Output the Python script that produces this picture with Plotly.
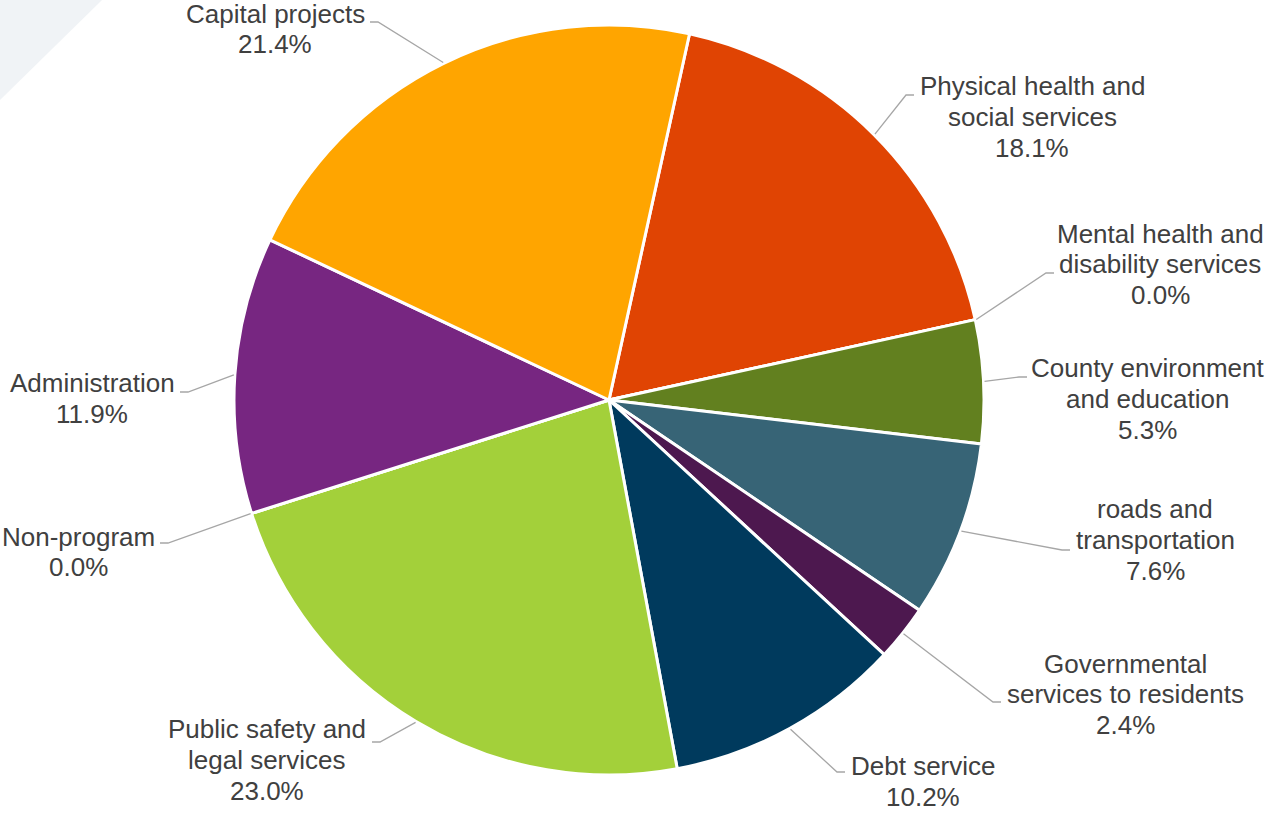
import math
import plotly.graph_objects as go

# Budget shares by programme area, listed clockwise from the top of the pie
categories = [
    "Physical health and social services",
    "Mental health and disability services",
    "County environment and education",
    "roads and transportation",
    "Governmental services to residents",
    "Debt service",
    "Public safety and legal services",
    "Non-program",
    "Administration",
    "Capital projects",
]
shares = [18.1, 0.0, 5.3, 7.6, 2.4, 10.2, 23.0, 0.0, 11.9, 21.4]

# Wrapped label text for each slice
label_text = [
    ["Physical health and", "social services"],
    ["Mental health and", "disability services"],
    ["County environment", "and education"],
    ["roads and", "transportation"],
    ["Governmental", "services to residents"],
    ["Debt service"],
    ["Public safety and", "legal services"],
    ["Non-program"],
    ["Administration"],
    ["Capital projects"],
]

slice_colors = [
    "#E04403", "#A5A5A5", "#62801F", "#376476", "#4D184F",
    "#003A5D", "#A3D03A", "#7F7F7F", "#772681", "#FFA500",
]

# ---- layout / styling ----
W, H = 1268, 814
CX, CY, R = 609, 400, 375          # pie centre and radius in pixels
START_ANGLE = 12.4                  # degrees clockwise from 12 o'clock
FONT = dict(family="Liberation Sans, Arial, sans-serif", size=26, color="#404040")
LINE_STEP = 30.75                   # line spacing of label text (px)
LEADER_COLOR = "#A6A6A6"
HOOK_LEN = 8

# label placement: text centre x, first-line centre y, leader hook end (x, y)
label_layout = [
    (1032, 86, 914, 95),
    (1160, 233.5, 1054, 273),
    (1147, 368.5, 1027, 377),
    (1155, 509, 1070, 550),
    (1125, 663.5, 1001, 702),
    (923, 766, 845, 772),
    (267, 729, 372, 742),
    (78, 536.5, 160, 543),
    (92, 383.5, 180, 392),
    (275, 13.5, 370, 22),
]


def px(x):
    return x / W


def py(y):
    return 1 - y / H


fig = go.Figure(
    go.Pie(
        labels=categories,
        values=shares,
        sort=False,
        direction="clockwise",
        rotation=START_ANGLE,
        textinfo="none",
        hoverinfo="label+percent",
        marker=dict(colors=slice_colors, line=dict(color="white", width=3)),
        domain=dict(x=[px(CX - R), px(CX + R)], y=[py(CY + R), py(CY - R)]),
        showlegend=False,
    )
)

shapes = [
    # pale corner decoration
    dict(
        type="path",
        xref="paper", yref="paper",
        path=f"M 0 1 L {px(102)} 1 L 0 {py(100)} Z",
        fillcolor="#F0F3F6", line=dict(width=0), layer="below",
    )
]
annotations = []

total = sum(shares)
cum = 0.0
for name_lines, v, (tx, ty, hx, hy) in zip(label_text, shares, label_layout):
    mid = math.radians(START_ANGLE + 360.0 * (cum + v / 2.0) / total)
    cum += v
    ex = CX + (R + 1) * math.sin(mid)
    ey = CY - (R + 1) * math.cos(mid)
    elbow_x = hx - HOOK_LEN if hx < tx else hx + HOOK_LEN
    shapes.append(
        dict(
            type="path",
            xref="paper", yref="paper",
            path=f"M {px(ex)} {py(ey)} L {px(elbow_x)} {py(hy)} L {px(hx)} {py(hy)}",
            line=dict(color=LEADER_COLOR, width=1.3),
        )
    )
    lines = name_lines + [f"{v:.1f}%"]
    for i, line in enumerate(lines):
        annotations.append(
            dict(
                x=px(tx), y=py(ty + i * LINE_STEP),
                xref="paper", yref="paper",
                text=line, showarrow=False,
                xanchor="center", yanchor="middle",
                font=FONT,
            )
        )

fig.update_layout(
    width=W, height=H,
    margin=dict(l=0, r=0, t=0, b=0),
    paper_bgcolor="white",
    plot_bgcolor="white",
    shapes=shapes,
    annotations=annotations,
)

fig.write_html("out.html")
